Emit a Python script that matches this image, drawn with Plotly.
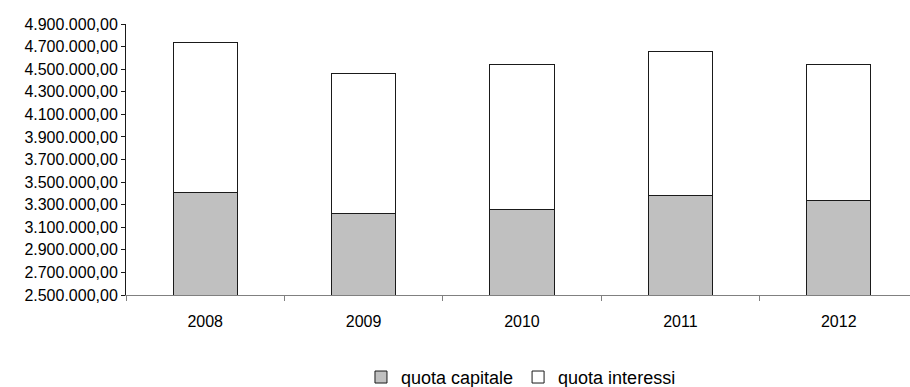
import plotly.graph_objects as go

years = ["2008", "2009", "2010", "2011", "2012"]
quota_capitale = [3412000, 3220000, 3255000, 3379000, 3335000]
quota_interessi = [1328500, 1243000, 1285000, 1279000, 1205000]
y_ticks = [2500000 + 200000 * i for i in range(13)]

font_family = "Liberation Sans, Arial, sans-serif"

fig = go.Figure()
fig.add_trace(go.Bar(
    x=years, y=quota_capitale, name="quota capitale",
    marker=dict(color="#C0C0C0", line=dict(color="#1a1a1a", width=1)),
    width=0.405,
))
fig.add_trace(go.Bar(
    x=years, y=quota_interessi, name="quota interessi",
    marker=dict(color="#FFFFFF", line=dict(color="#1a1a1a", width=1)),
    width=0.405,
))

fig.update_layout(
    barmode="stack",
    width=910, height=387,
    margin=dict(l=126, r=0, t=24, b=92, autoexpand=False),
    paper_bgcolor="white", plot_bgcolor="white",
    separators=",.",
    font=dict(family=font_family, color="#000000"),
    showlegend=True,
    legend=dict(
        orientation="h", xref="container", yref="container",
        x=0.5725, xanchor="center", y=0.025, yanchor="middle",
        font=dict(size=18, family=font_family), itemwidth=30,
        traceorder="normal",
    ),
    xaxis=dict(
        type="category", range=[-0.5, 4.45],
        showline=True, linecolor="#808080", linewidth=1,
        ticks="outside", tickson="boundaries", ticklen=5, tickcolor="#808080",
        tickfont=dict(size=16), showgrid=False, zeroline=False,
        ticklabelstandoff=12,
    ),
    yaxis=dict(
        range=[2500000, 4900000], tickvals=y_ticks, tickformat=",.2f",
        showline=True, linecolor="#1a1a1a", linewidth=1,
        ticks="outside", ticklen=4, tickcolor="#1a1a1a",
        tickfont=dict(size=16), showgrid=False, zeroline=False,
    ),
)

fig.write_html("out.html", config={"displayModeBar": False})
